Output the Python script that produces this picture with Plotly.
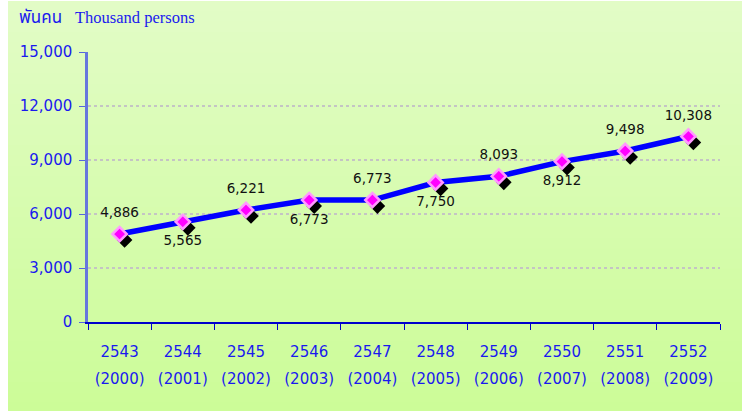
import plotly.graph_objects as go

thai_years = ["2543", "2544", "2545", "2546", "2547", "2548", "2549", "2550", "2551", "2552"]
greg_years = ["(2000)", "(2001)", "(2002)", "(2003)", "(2004)", "(2005)", "(2006)", "(2007)", "(2008)", "(2009)"]
persons = [4886, 5565, 6221, 6773, 6773, 7750, 8093, 8912, 9498, 10308]
label_pos = ["top center", "bottom center", "top center", "bottom center", "top center",
             "bottom center", "top center", "bottom center", "top center", "top center"]
y_ticks = [0, 3000, 6000, 9000, 12000, 15000]

idx = list(range(len(thai_years)))
W, H = 742, 411
L, R, T, B = 88, 22, 52, 89
pw, ph = W - L - R, H - T - B
xr = [-0.5, len(idx) - 0.5]
yr = [0, 15000]
dx = 5 / pw * (xr[1] - xr[0])
dy = 6 / ph * (yr[1] - yr[0])

blue = "#1a1aee"
fig = go.Figure()

# gradient background
n = 40
x0p, x1p = (8 - L) / pw, (W + 2 - L) / pw
ytop, ybot = (H - B - 1) / ph, (H - B - H - 2) / ph
c0, c1 = (226, 252, 198), (204, 252, 152)
for i in range(n):
    t = i / (n - 1)
    c = tuple(round(c0[k] + (c1[k] - c0[k]) * t) for k in range(3))
    ya = ytop - (ytop - ybot) * i / n
    yb = ytop - (ytop - ybot) * (i + 1) / n - 0.003
    fig.add_shape(type="rect", xref="paper", yref="paper", x0=x0p, x1=x1p, y0=yb, y1=ya,
                  fillcolor="rgb(%d,%d,%d)" % c, line_width=0, layer="below")

fig.add_trace(go.Scatter(x=idx, y=persons, mode="lines", line=dict(color="#0000ff", width=5.5),
                         xaxis="x", yaxis="y", hoverinfo="skip"))
fig.add_trace(go.Scatter(x=idx, y=persons, mode="markers",
                         marker=dict(symbol="diamond", size=12, color="#000000"),
                         xaxis="x2", yaxis="y2", hoverinfo="skip"))
fig.add_trace(go.Scatter(x=idx, y=persons, mode="markers",
                         marker=dict(symbol="diamond", size=11, color="#ff00ff",
                                     line=dict(color="#ff99ff", width=2.5)),
                         xaxis="x3", yaxis="y3"))
fig.add_trace(go.Scatter(x=idx, y=persons, mode="markers+text",
                         text=[f"{v:,}" for v in persons], textposition=label_pos,
                         textfont=dict(family="DejaVu Sans", size=13.5, color="#111111"),
                         marker=dict(size=20, color="rgba(0,0,0,0)"),
                         xaxis="x3", yaxis="y3", hoverinfo="skip"))

fig.update_layout(
    width=W, height=H, margin=dict(l=L, r=R, t=T, b=B),
    paper_bgcolor="white", plot_bgcolor="rgba(0,0,0,0)", showlegend=False,
    font=dict(family="DejaVu Sans", color=blue),
    xaxis=dict(range=xr, tickvals=idx, ticktext=thai_years, ticks="", showgrid=False,
               zeroline=False, showline=True, linecolor="#0000cc", linewidth=1.5,
               tickfont=dict(size=15, color=blue), ticklabelstandoff=15,
               minor=dict(tickvals=[i - 0.5 for i in range(len(idx) + 1)], ticks="outside",
                          ticklen=6, tickcolor="#0000cc", tickwidth=1, showgrid=False)),
    yaxis=dict(range=yr, tickvals=y_ticks, tickformat=",d", ticks="outside", ticklen=6,
               tickcolor="#5566dd", showline=True, linecolor="#6677dd", linewidth=2.5,
               showgrid=True, gridcolor="#c4c4c4", gridwidth=2, griddash="dot",
               zeroline=False, tickfont=dict(size=15, color=blue), ticklabelstandoff=4),
    xaxis2=dict(range=[xr[0] - dx, xr[1] - dx], overlaying="x", visible=False),
    yaxis2=dict(range=[yr[0] + dy, yr[1] + dy], overlaying="y", visible=False),
    xaxis3=dict(range=xr, overlaying="x", side="bottom", tickvals=idx, ticktext=greg_years,
                ticks="", showline=False, showgrid=False, zeroline=False,
                tickfont=dict(size=15, color=blue), ticklabelstandoff=46),
    yaxis3=dict(range=yr, overlaying="y", visible=False),
)

fig.add_annotation(xref="paper", yref="paper", x=(17 - L) / pw, y=(H - B - 18) / ph,
                   xanchor="left", yanchor="middle", showarrow=False,
                   text="พันคน", font=dict(family="Noto Sans Thai, Noto Sans, sans-serif", size=17, color=blue))
fig.add_annotation(xref="paper", yref="paper", x=(73 - L) / pw, y=(H - B - 18) / ph,
                   xanchor="left", yanchor="middle", showarrow=False,
                   text="Thousand persons", font=dict(family="Liberation Serif", size=16.5, color=blue))

fig.write_html("out.html", config={"displayModeBar": False},
               post_script="document.body.style.margin='0';document.body.style.overflow='hidden';")
